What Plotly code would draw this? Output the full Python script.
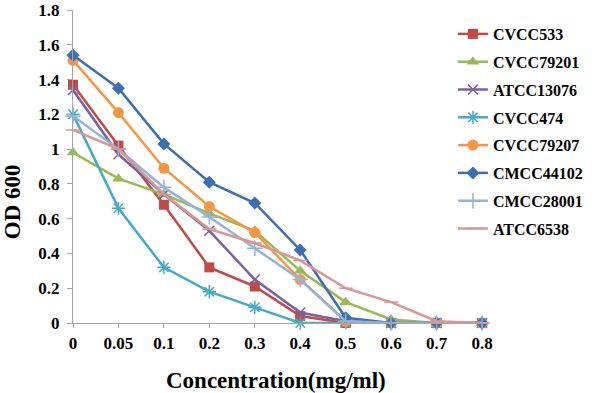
import plotly.graph_objects as go

concentration = ["0", "0.05", "0.1", "0.2", "0.3", "0.4", "0.5", "0.6", "0.7", "0.8"]
CVCC533 = [1.37, 1.02, 0.68, 0.32, 0.21, 0.04, 0.0, 0.0, 0.0, 0.0]
CVCC79201 = [0.98, 0.83, 0.74, 0.63, 0.53, 0.30, 0.12, 0.02, 0.0, 0.0]
ATCC13076 = [1.34, 0.97, 0.74, 0.53, 0.25, 0.06, 0.01, 0.0, 0.0, 0.0]
CVCC474 = [1.20, 0.66, 0.32, 0.18, 0.09, 0.0, 0.0, 0.0, 0.0, 0.0]
CVCC79207 = [1.51, 1.21, 0.89, 0.67, 0.52, 0.25, 0.01, 0.0, 0.0, 0.0]
CMCC44102 = [1.54, 1.35, 1.03, 0.81, 0.69, 0.42, 0.03, 0.0, 0.0, 0.0]
CMCC28001 = [1.19, 1.00, 0.78, 0.61, 0.43, 0.25, 0.01, 0.0, 0.0, 0.0]
ATCC6538 = [1.11, 1.00, 0.74, 0.54, 0.46, 0.36, 0.20, 0.12, 0.01, 0.0]

y_tickvals = [0, 0.2, 0.4, 0.6, 0.8, 1.0, 1.2, 1.4, 1.6, 1.8]
y_ticktext = ["0", "0.2", "0.4", "0.6", "0.8", "1", "1.2", "1.4", "1.6", "1.8"]

series = [
    ("CVCC533", CVCC533, "#BE4B48", "square", 10, False),
    ("CVCC79201", CVCC79201, "#98B954", "triangle-up", 11, False),
    ("ATCC13076", ATCC13076, "#7D60A0", "x-thin", 10, True),
    ("CVCC474", CVCC474, "#46AAC5", "asterisk", 11, True),
    ("CVCC79207", CVCC79207, "#F79646", "circle", 11, False),
    ("CMCC44102", CMCC44102, "#3C6EB0", "diamond", 10, False),
    ("CMCC28001", CMCC28001, "#95B3D7", "cross-thin", 11, True),
    ("ATCC6538", ATCC6538, "#D99694", "line-ew", 10, True),
]

fig = go.Figure()
for i, (name, vals, color, sym, size, thin) in enumerate(series):
    marker = dict(symbol=sym, size=size, color=color)
    marker["line"] = dict(color=color, width=1.5 if thin else 0)
    fig.add_trace(go.Scatter(
        x=concentration, y=vals, name=name, mode="lines+markers",
        line=dict(color=color, width=2.5), marker=marker,
        cliponaxis=False, legendgroup=f"g{i}",
    ))

font_family = "Liberation Serif, Times New Roman, serif"
tick_font = dict(family=font_family, size=17, color="black", weight="bold")
title_font = dict(family=font_family, size=23, color="black", weight="bold")

pl, pr, pt, pb = 73, 598 - 108, 10, 393 - 70


def px_x(v):
    return (v - pl) / (pr - pl)


def px_y(v):
    return (pb - v) / (pb - pt)


fig.update_layout(
    width=598, height=393,
    margin=dict(l=pl, r=598 - pr, t=pt, b=393 - pb),
    paper_bgcolor="white", plot_bgcolor="white",
    font=dict(family=font_family, size=17, color="black"),
    showlegend=True,
    legend=dict(x=px_x(598), y=px_y(17), xanchor="right", yanchor="top",
                font=dict(family=font_family, size=16, color="black", weight="bold"),
                tracegroupgap=4, itemwidth=30, bgcolor="rgba(0,0,0,0)",
                borderwidth=0, traceorder="grouped"),
    xaxis=dict(type="category", range=[0, 9], showgrid=False, zeroline=False,
               automargin=False,
               showline=True, linecolor="#A6A6A6", linewidth=1,
               ticks="outside", ticklen=4, tickcolor="#A6A6A6",
               ticklabelstandoff=1, tickfont=tick_font),
    yaxis=dict(range=[0, 1.8], tickvals=y_tickvals, ticktext=y_ticktext,
               showgrid=False, zeroline=False, automargin=False,
               ticklabeloverflow="allow",
               showline=True, linecolor="#A6A6A6", linewidth=1,
               ticks="outside", ticklen=5, tickcolor="#A6A6A6",
               ticklabelstandoff=4, tickfont=tick_font),
    annotations=[
        dict(text="Concentration(mg/ml)", x=px_x(280), y=px_y(380), xref="paper", yref="paper",
             showarrow=False, font=title_font, xanchor="center", yanchor="middle"),
        dict(text="OD 600", x=px_x(11), y=px_y(202), xref="paper", yref="paper", textangle=-90,
             showarrow=False, font=title_font, xanchor="center", yanchor="middle"),
    ],
)

fig.write_html("out.html", config={"displayModeBar": False},
               post_script="document.body.style.margin='0';document.body.style.padding='0';")
